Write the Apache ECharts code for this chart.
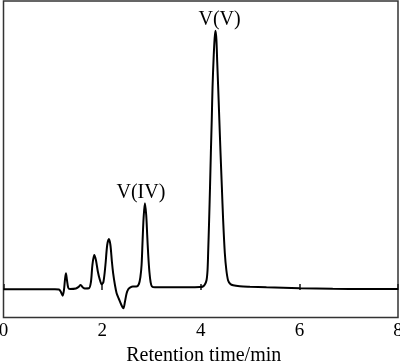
<!DOCTYPE html>
<html>
<head>
<meta charset="utf-8">
<script src="https://cdn.jsdelivr.net/npm/echarts@6/dist/echarts.min.js"></script>
<style>
html,body{margin:0;padding:0;background:#fff;}
#c{width:400px;height:362px;}
</style>
</head>
<body>
<div id="c"></div>
<script>
// Retention time (min)
var times = [0, 0.537, 1.044, 1.125, 1.165, 1.200, 1.226, 1.246, 1.266, 1.287, 1.313, 1.347,
  1.469, 1.520, 1.564, 1.611, 1.651, 1.733, 1.773, 1.803, 1.840, 1.874, 1.915, 1.955, 1.990,
  2.026, 2.067, 2.103, 2.138, 2.168, 2.199, 2.224, 2.260, 2.294, 2.340, 2.391, 2.432, 2.462,
  2.497, 2.533, 2.573, 2.624, 2.695, 2.746, 2.776, 2.800, 2.821, 2.841, 2.867, 2.894, 2.914,
  2.935, 2.959, 2.983, 3.009, 3.070, 3.374, 3.779, 3.982, 4.043, 4.083, 4.118, 4.138, 4.150,
  4.170, 4.188, 4.205, 4.223, 4.239, 4.261, 4.282, 4.300, 4.318, 4.334, 4.353, 4.377, 4.401,
  4.428, 4.454, 4.488, 4.519, 4.555, 4.600, 4.657, 4.792, 4.995, 5.333, 6.008, 6.677, 7.346, 8.0];
// Detector signal (arbitrary units)
var signal = [0.7, 0.7, 0.8, 0.5, -2, -5.7, 0, 10, 16.7, 10, 2.3, 1,
  1.5, 3, 5, 2.5, 1.5, 1.7, 8, 25, 35, 30, 18, 10, 5.7,
  8, 25, 45, 51, 45, 28, 16.7, 5, -3.3, -9, -15, -18.3, -12,
  -3.3, 1, 2.7, 3.5, 3.5, 6, 13, 25, 50, 72, 86.7, 75, 55,
  35, 18, 8, 3.7, 2.7, 2.7, 2.7, 3, 3.5, 5.5, 10, 20, 37,
  70, 103, 137, 170, 203, 232, 252, 259.3, 250, 228, 203, 170, 137,
  103, 70, 37, 20, 9.5, 6, 4.7, 3.8, 3.3, 2.7, 1.8, 1.2, 1, 1];
// Peak annotations
var peakNames = ['V(IV)', 'V(V)'];
var peakTimes = [2.867, 4.300];
var xTicks = [0, 2, 4, 6, 8];

var labelOffsets = [[-4, 0], [4, 0]];
var data = times.map(function (t, i) { return [t, signal[i]]; });
var marks = peakTimes.map(function (pt, k) {
  var best = 0, bd = Infinity;
  times.forEach(function (t, i) { var d = Math.abs(t - pt); if (d < bd) { bd = d; best = i; } });
  return {
    coord: [times[best], signal[best]],
    label: {
      show: true, position: 'top', distance: 1, offset: labelOffsets[k],
      formatter: peakNames[k],
      fontFamily: 'Liberation Serif', fontSize: 20, color: '#000'
    }
  };
});

var chart = echarts.init(document.getElementById('c'), null, {renderer: 'canvas'});
chart.setOption({
  animation: false,
  backgroundColor: '#fff',
  grid: {left: 3.5, right: 2, top: 1, bottom: 44.5, show: true, borderColor: '#333', borderWidth: 1.5,
    outerBoundsMode: 'none', containLabel: false},
  xAxis: {
    type: 'value', min: xTicks[0], max: xTicks[xTicks.length - 1], interval: 2,
    name: 'Retention time/min', nameLocation: 'middle', nameGap: 24,
    nameTextStyle: {fontFamily: 'Liberation Serif', fontSize: 20, color: '#000', padding: [0, 0, 0, 6]},
    axisLine: {show: false},
    axisTick: {show: true, inside: true, length: 6, lineStyle: {color: '#222', width: 1.6}},
    axisLabel: {margin: 4, fontFamily: 'Liberation Serif', fontSize: 19, color: '#000'},
    splitLine: {show: false}
  },
  yAxis: {
    type: 'value', min: -27.5, max: 289,
    axisLine: {show: false}, axisTick: {show: false}, axisLabel: {show: false}, splitLine: {show: false}
  },
  series: [{
    type: 'line', data: data, smooth: 0.3, showSymbol: false, symbol: 'none',
    lineStyle: {color: '#000', width: 2},
    clip: true,
    markPoint: {
      symbol: 'circle', symbolSize: 0, silent: true,
      data: marks
    }
  }]
});
</script>
</body>
</html>
